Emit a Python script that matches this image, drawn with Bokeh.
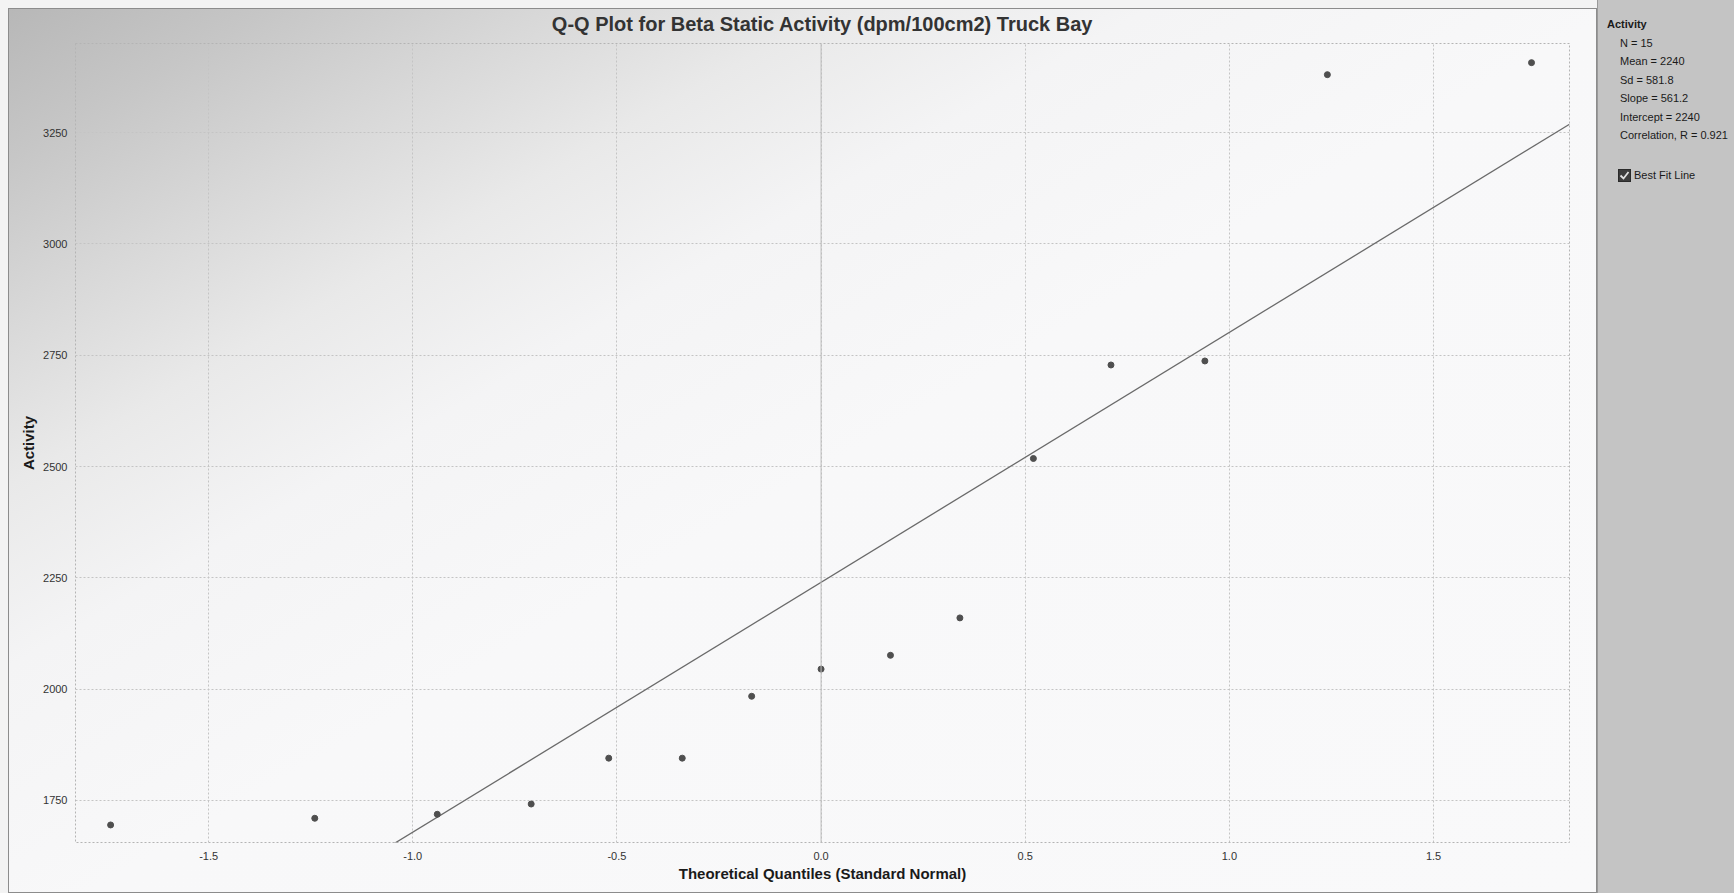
from bokeh.plotting import figure
from bokeh.models import Span, FixedTicker, Range1d, ColumnDataSource, Div, PrintfTickFormatter
from bokeh.layouts import row
from bokeh.embed import file_html
from bokeh.resources import INLINE

# ---------------- data ----------------
title_text = "Q-Q Plot for Beta Static Activity (dpm/100cm2) Truck Bay"
x_label = "Theoretical Quantiles (Standard Normal)"
y_label = "Activity"
theoretical_q = [-1.74, -1.24, -0.94, -0.71, -0.52, -0.34, -0.17, 0.0,
                 0.17, 0.34, 0.52, 0.71, 0.94, 1.24, 1.74]
activity = [1695, 1710, 1719, 1742, 1845, 1845, 1984, 2045,
            2076, 2160, 2518, 2728, 2737, 3380, 3407]
x_ticks = [-1.5, -1.0, -0.5, 0.0, 0.5, 1.0, 1.5]
y_ticks = [1750, 2000, 2250, 2500, 2750, 3000, 3250]
stat_title = "Activity"
stat_lines = ["N = 15", "Mean = 2240", "Sd = 581.8", "Slope = 561.2",
              "Intercept = 2240", "Correlation, R = 0.921"]
checkbox_label = "Best Fit Line"
fit_slope = 561.2
fit_intercept = 2240.0
x_min, x_max = -1.826, 1.833
y_min, y_max = 1655.6, 3450.0

FONT = "Liberation Sans"

# ---------------- main chart ----------------
p = figure(width=1597, height=893,
           x_range=Range1d(x_min, x_max), y_range=Range1d(y_min, y_max),
           output_backend="svg", toolbar_location=None,
           min_border_left=75, min_border_right=28,
           min_border_top=43, min_border_bottom=51)
p.border_fill_color = None
p.background_fill_color = None
p.styles = {
    "background": "linear-gradient(150deg, #b6b6b6 0%, #c6c6c6 9%, #d8d8d8 18%, #e9e9e9 27%, #f4f4f5 37%, #f8f8f9 52%, #f9f9fa 100%)",
    "box-shadow": "inset 4px 4px 0 4px #f3f3f3, inset 4px 4px 0 5px #8c8c8c",
}
p.outline_line_color = "#b4b4b4"
p.outline_line_dash = "2 2"

p.title.text = title_text
p.title.align = "center"
p.title.text_font = FONT
p.title.text_font_size = "20px"
p.title.text_font_style = "bold"
p.title.text_color = "#333333"
p.title.standoff = 18

for ax in (p.xaxis[0], p.yaxis[0]):
    ax.axis_line_color = None
    ax.major_tick_line_color = None
    ax.minor_tick_line_color = None
    ax.major_tick_in = 0
    ax.major_tick_out = 0
    ax.minor_tick_in = 0
    ax.minor_tick_out = 0
    ax.major_label_text_font = FONT
    ax.major_label_text_font_size = "11px"
    ax.major_label_text_color = "#333333"
    ax.axis_label_text_font = FONT
    ax.axis_label_text_font_size = "15px"
    ax.axis_label_text_font_style = "bold"
    ax.axis_label_text_color = "#1a1a1a"

p.xaxis[0].ticker = FixedTicker(ticks=x_ticks)
p.xaxis[0].formatter = PrintfTickFormatter(format="%.1f")
p.yaxis[0].ticker = FixedTicker(ticks=y_ticks)
p.xaxis[0].axis_label = x_label
p.yaxis[0].axis_label = y_label
p.xaxis[0].major_label_standoff = 9
p.xaxis[0].axis_label_standoff = 2
p.yaxis[0].major_label_standoff = 8
p.yaxis[0].axis_label_standoff = 3

p.xgrid.grid_line_color = "#c4c4c4"
p.xgrid.grid_line_dash = "2 2"
p.ygrid.grid_line_color = "#c4c4c4"
p.ygrid.grid_line_dash = "2 2"

p.add_layout(Span(location=0.0, dimension="height", line_color="#bcbcbc", line_width=1))

# best fit line
fit_x = [x_min, x_max]
fit_y = [fit_intercept + fit_slope * v for v in fit_x]
p.line(fit_x, fit_y, line_color="#6a6a6a", line_width=1.3)

src = ColumnDataSource(dict(q=theoretical_q, a=activity))
p.scatter("q", "a", source=src, size=6, fill_color="#4f4f4f", line_color="#4f4f4f")

# ---------------- side panel ----------------
def line_div(text, left, top, size, bold=False):
    weight = "bold" if bold else "normal"
    return (f'<div style="position:absolute;left:{left}px;top:{top}px;'
            f'font-size:{size}px;font-weight:{weight};white-space:nowrap;">{text}</div>')

parts = [line_div(stat_title, 9, 17, 11, True)]
for i, t in enumerate(stat_lines):
    parts.append(line_div(t, 22, 36 + 18.4 * i, 11))
parts.append(
    '<svg style="position:absolute;left:20px;top:169px;" width="13" height="13">'
    '<rect x="0.5" y="0.5" width="12" height="12" fill="#3c3c3c" stroke="#2a2a2a"/>'
    '<polyline points="2.5,6.5 5.5,9.5 10.5,3" fill="none" stroke="#e0e0e0" stroke-width="1.8"/>'
    '</svg>')
parts.append(line_div(checkbox_label, 36, 168, 11))

html = ('<div style="position:relative;width:137px;height:893px;background:#c4c4c4;'
        f"font-family:'{FONT}';color:#1a1a1a;\">" + "".join(parts) + "</div>")

side = Div(text=html, width=137, height=893,
           styles={"background": "#c4c4c4", "margin": "0", "padding": "0",
                   "border-left": "1px solid #9a9a9a", "box-sizing": "border-box"})

layout = row(p, side, spacing=0)
open("out.html", "w").write(file_html(layout, INLINE))
